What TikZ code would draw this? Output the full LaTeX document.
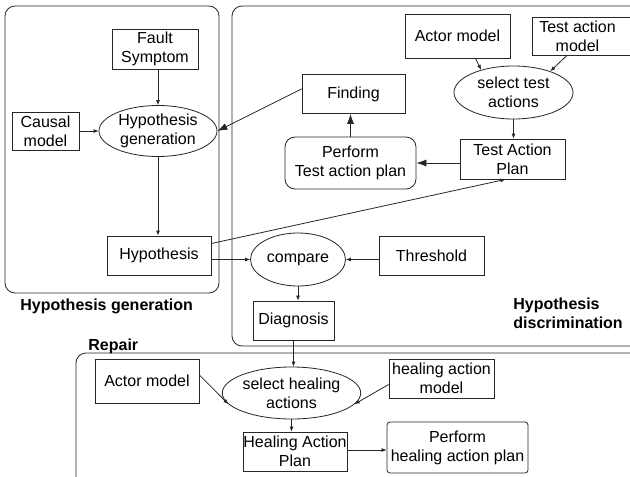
\documentclass[tikz,border=0pt]{standalone}
\usepackage{fontspec}
\setmainfont{Liberation Sans}
\usetikzlibrary{shapes.geometric,arrows.meta,calc}

\newcommand{\txtsize}{\fontsize{16}{19}\selectfont}
\newcommand{\pullleft}{\hspace*{-19pt}}

\tikzset{
  box/.style={draw, rectangle, inner sep=0pt, align=center, font=\txtsize},
  rbox/.style={box, rounded corners=#1},
  ell/.style={draw, ellipse, inner sep=0pt, align=center, font=\txtsize},
  panel/.style={draw, rounded corners=10pt},
  arr/.style={-{Latex[length=5pt,width=4pt]}},
  bigarr/.style={-{Latex[length=10pt,width=7pt]}},
  title/.style={font=\txtsize\bfseries, anchor=west, align=left, inner sep=0pt},
}

\begin{document}
\begin{tikzpicture}[x=1pt, y=-1pt, line width=0.8pt, draw=black!85]
  \useasboundingbox (0,0) rectangle (630,477);
  \fill[white] (0,0) rectangle (630,477);
  \clip (0,0) rectangle (630,477);

  % ---- panels
  \draw[panel] (5,6) rectangle (219,293);
  \draw[panel] (232,6) rectangle (660,346);
  \draw[panel] (76,353) rectangle (660,500);

  \node[title] (tgen) at (20,306) {Hypothesis generation};
  \node[title] (tdis) at (513,313) {Hypothesis\\discrimination};
  \node[title] (trep) at (88,346) {Repair};

  % ---- hypothesis generation
  \node[box, minimum width=86pt, minimum height=40pt] (fs) at (155,49) {Fault\\Symptom};
  \node[box, minimum width=67pt, minimum height=38pt] (cm) at (45.5,131) {Causal\\model};
  \node[ell, minimum width=118pt, minimum height=51pt] (hg) at (158,131) {Hypothesis\\generation};
  \node[box, minimum width=104pt, minimum height=39pt] (hyp) at (159,255.5) {Hypothesis};

  % ---- hypothesis discrimination
  \node[box, minimum width=103pt, minimum height=39pt] (find) at (353.5,94) {Finding};
  \node[rbox=10pt, minimum width=131pt, minimum height=52pt] (ptp) at (350.5,163) {Perform\\Test action plan};
  \node[box, minimum width=105pt, minimum height=44pt] (am) at (457.5,36) {Actor model};
  \node[box, minimum width=110pt, minimum height=38pt] (tam) at (587,36) {\pullleft Test action\\\pullleft model};
  \node[ell, minimum width=119pt, minimum height=53pt] (ste) at (513.5,92.5) {select test\\actions};
  \node[box, minimum width=105pt, minimum height=40pt] (tap) at (512.5,159) {Test Action\\Plan};
  \node[ell, minimum width=95pt, minimum height=53pt] (cmp) at (298,259.5) {compare};
  \node[box, minimum width=105pt, minimum height=39pt] (thr) at (431.5,255.5) {Threshold};
  \node[box, minimum width=81pt, minimum height=39pt] (diag) at (293.5,320.5) {Diagnosis};

  % ---- repair
  \node[box, minimum width=104pt, minimum height=44pt] (ram) at (147,381) {Actor model};
  \node[ell, minimum width=119pt, minimum height=52pt] (shl) at (291.5,393) {select healing\\actions};
  \node[box, minimum width=105pt, minimum height=39pt] (ham) at (441.5,378.5) {healing action\\model};
  \node[box, minimum width=104pt, minimum height=39pt] (hap) at (295,451.5) {Healing Action\\Plan};
  \node[rbox=3pt, minimum width=141pt, minimum height=51pt] (phe) at (457.5,447.5) {Perform\\healing action plan};

  % ---- connectors
  \draw[arr] (fs.south -| hg.north) -- (hg.north);
  \draw[arr] (cm.east) -- (hg.west);
  \draw[bigarr] ($(find.west)+(0,-5)$) -- (hg.east);
  \draw[arr] (hg.south) -- (hg.south |- hyp.north);
  \draw[arr] ($(hyp.east)+(0,-12)$) -- ($(tap.south)+(-7,0)$);
  \draw[arr] (hyp.east |- cmp.west) -- (cmp.west);
  \draw[arr] (thr.west |- cmp.east) -- (cmp.east);
  \draw[arr] (cmp.south) -- (cmp.south |- diag.north);
  \draw[arr] (diag.south) -- (diag.south |- shl.north);

  \draw[arr] ($(am.south)+(18,0)$) -- (ste.145);
  \draw[arr] ($(tam.south)+(-20,0)$) -- (ste.30);
  \draw[arr] (ste.south) -- (ste.south |- tap.north);
  \draw[bigarr] (tap.west |- ptp.east) -- (ptp.east);
  \draw[bigarr] (ptp.north) -- (ptp.north |- find.south);

  \draw[arr] ($(ram.east)+(0,-6)$) -- (shl.190);
  \draw[arr] ($(ham.west)+(0,6)$) -- (shl.-10);
  \draw[arr] (shl.south) -- (shl.south |- hap.north);
  \draw[arr] (hap.east |- 0,450) -- (phe.west |- 0,450);
\end{tikzpicture}
\end{document}
